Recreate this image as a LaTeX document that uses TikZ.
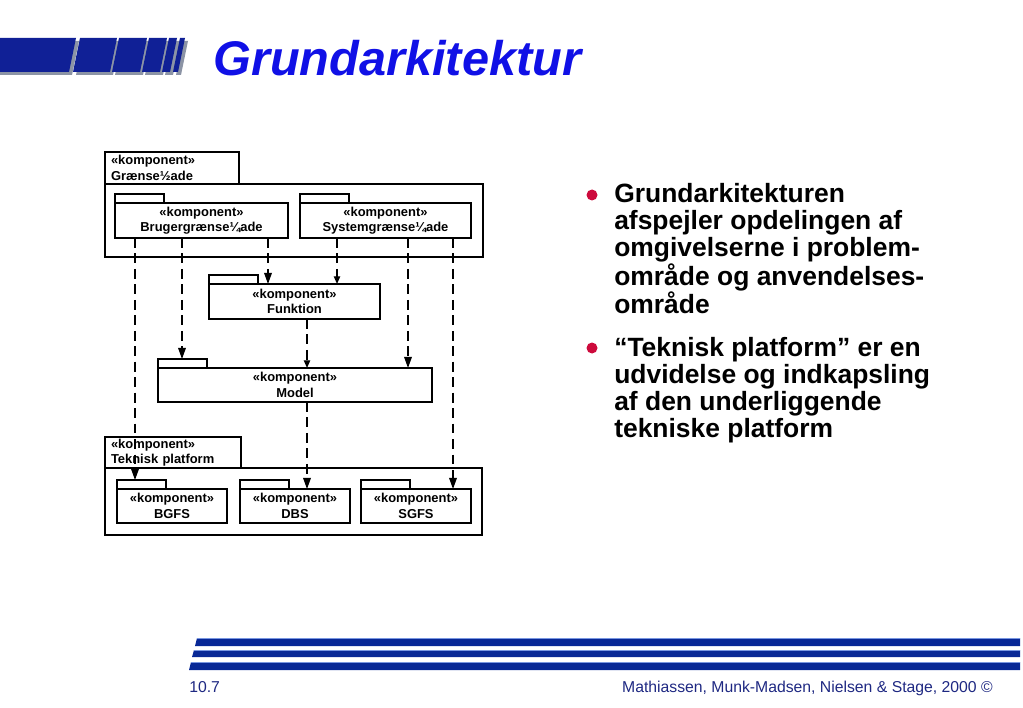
\documentclass[tikz,border=0pt]{standalone}
\usepackage{fontspec}
\setmainfont{Liberation Sans}
\usetikzlibrary{arrows.meta}

\newlength\pix
\setlength\pix{0.025cm}

\definecolor{barblue}{RGB}{16,32,150}
\definecolor{barshadow}{RGB}{140,148,165}
\definecolor{titleblue}{RGB}{16,16,230}
\definecolor{stripeblue}{RGB}{8,40,150}
\definecolor{stripeedge}{RGB}{120,150,225}
\definecolor{footblue}{RGB}{30,40,130}
\definecolor{dotred}{RGB}{205,10,60}

\tikzset{
    pkg/.style={draw, line width=1.2pt, fill=white, inner sep=0pt, outer sep=0pt,
        align=center, font=\fontsize{9.2}{11}\selectfont\bfseries},
    pkgtab/.style={draw, line width=1.2pt, fill=white, inner sep=0pt, outer sep=0pt,
        minimum width=49*\pix, minimum height=9*\pix, anchor=south west},
    dep/.style={line width=1pt, dash pattern=on 7pt off 4pt,
        -{Triangle[length=8pt,width=5.5pt]}},
    smalldep/.style={dep, -{Triangle[length=5.5pt,width=4.5pt]}},
    bullettext/.style={font=\fontsize{18.8}{19.2}\selectfont\bfseries, align=left,
        inner sep=0pt, anchor=north west},
    dot/.style={circle, fill=dotred, inner sep=0pt, minimum size=11*\pix},
}

\begin{document}
\begin{tikzpicture}[x=0.025cm, y=-0.025cm]
    \useasboundingbox (0,0) rectangle (1023,708);

    % Logo bars with their shadow
    \fill[barshadow, shift={(3,3)}]
        (-10,38) -- (76,38) -- (69,72) -- (-17,72) -- cycle
        (80,38) -- (117,38) -- (110,72) -- (73,72) -- cycle
        (119,38) -- (147,38) -- (140,72) -- (112,72) -- cycle
        (149,38) -- (167,38) -- (160,72) -- (142,72) -- cycle
        (169,38) -- (177,38) -- (170,72) -- (162,72) -- cycle
        (180,38) -- (185,38) -- (178,72) -- (173,72) -- cycle;
    \fill[barblue]
        (-10,38) -- (76,38) -- (69,72) -- (-17,72) -- cycle
        (80,38) -- (117,38) -- (110,72) -- (73,72) -- cycle
        (119,38) -- (147,38) -- (140,72) -- (112,72) -- cycle
        (149,38) -- (167,38) -- (160,72) -- (142,72) -- cycle
        (169,38) -- (177,38) -- (170,72) -- (162,72) -- cycle
        (180,38) -- (185,38) -- (178,72) -- (173,72) -- cycle;

    % Title
    \node[anchor=base west, inner sep=0pt, text=titleblue,
        font=\fontsize{34.6}{34.6}\selectfont\bfseries\itshape] (title) at (213,76) {Grundarkitektur};

    % Lanes of the dependencies
    \coordinate (l1) at (135,0);
    \coordinate (l2) at (182,0);
    \coordinate (l3) at (268,0);
    \coordinate (l4) at (337,0);
    \coordinate (l5) at (307,0);
    \coordinate (l6) at (408,0);
    \coordinate (l7) at (453,0);

    % Package Graenseflade
    \node[pkg, minimum width=378*\pix, minimum height=73*\pix, anchor=north west] (graense) at (105,184) {};
    \node[pkg, align=left, text width=122*\pix, inner xsep=6*\pix, minimum height=32*\pix,
        anchor=south west] (graensetab) at (graense.north west) {«komponent»\\Grænse½ade};
    \node[pkg, minimum width=173*\pix, minimum height=35*\pix, anchor=north west] (bruger) at (115,203) {«komponent»\\Brugergrænse¼ade};
    \node[pkgtab] (brugertab) at (bruger.north west) {};
    \node[pkg, minimum width=171*\pix, minimum height=35*\pix, anchor=north west] (system) at (300,203) {«komponent»\\Systemgrænse¼ade};
    \node[pkgtab] (systemtab) at (system.north west) {};

    % Funktion and Model
    \node[pkg, minimum width=171*\pix, minimum height=35*\pix, anchor=north west] (funktion) at (209,284) {«komponent»\\Funktion};
    \node[pkgtab] (funktiontab) at (funktion.north west) {};
    \node[pkg, minimum width=274*\pix, minimum height=34*\pix, anchor=north west] (model) at (158,368) {«komponent»\\Model};
    \node[pkgtab] (modeltab) at (model.north west) {};

    % Package Teknisk platform
    \node[pkg, minimum width=377*\pix, minimum height=67*\pix, anchor=north west] (teknisk) at (105,468) {};
    \node[pkg, align=left, text width=124*\pix, inner xsep=6*\pix, minimum height=31*\pix,
        anchor=south west] (teknisktab) at (teknisk.north west) {«komponent»\\Teknisk platform};
    \node[pkg, minimum width=110*\pix, minimum height=34*\pix, anchor=north west] (bgfs) at (117,489) {«komponent»\\BGFS};
    \node[pkgtab] (bgfstab) at (bgfs.north west) {};
    \node[pkg, minimum width=110*\pix, minimum height=34*\pix, anchor=north west] (dbs) at (240,489) {«komponent»\\DBS};
    \node[pkgtab] (dbstab) at (dbs.north west) {};
    \node[pkg, minimum width=110*\pix, minimum height=34*\pix, anchor=north west] (sgfs) at (361,489) {«komponent»\\SGFS};
    \node[pkgtab] (sgfstab) at (sgfs.north west) {};

    % Draw the dependencies
    \draw[dep] (bruger.south -| l1) -- (bgfstab.north -| l1);
    \draw[dep] (bruger.south -| l2) -- (modeltab.north -| l2);
    \draw[dep] (bruger.south -| l3) -- (funktion.north -| l3);
    \draw[smalldep] (system.south -| l4) -- (funktion.north -| l4);
    \draw[smalldep] (funktion.south -| l5) -- (model.north -| l5);
    \draw[dep] (model.south -| l5) -- (dbs.north -| l5);
    \draw[dep] (system.south -| l6) -- (model.north -| l6);
    \draw[dep] (system.south -| l7) -- (sgfs.north -| l7);

    % Bullets
    \node[dot] (dot1) at (592,195) {};
    \node[bullettext] (text1) at (614,183) {Grundarkitekturen\\afspejler opdelingen af\\omgivelserne i problem-\\område og anvendelses-\\område};
    \node[dot] (dot2) at (592,348) {};
    \node[bullettext] (text2) at (614,337) {“Teknisk platform” er en\\udvidelse og indkapsling\\af den underliggende\\tekniske platform};

    % Footer stripes
    \fill[stripeblue] (197,638) -- (1020,638) -- (1020,646) -- (195,646) -- cycle;
    \fill[stripeblue] (194,650) -- (1020,650) -- (1020,657) -- (192,657) -- cycle;
    \fill[stripeblue] (191,662) -- (1020,662) -- (1020,670) -- (189,670) -- cycle;
    \draw[stripeedge, line width=0.6pt] (197,638) -- (1020,638) (194,650) -- (1020,650) (191,662) -- (1020,662);

    % Footer texts
    \node[anchor=base west, inner sep=0pt, text=footblue, font=\fontsize{11.2}{13}\selectfont] (pagenum) at (189,692) {10.7};
    \node[anchor=base east, inner sep=0pt, text=footblue, font=\fontsize{11.2}{13}\selectfont] (credit) at (993,692) {Mathiassen, Munk-Madsen, Nielsen \& Stage, 2000 ©};
\end{tikzpicture}
\end{document}
